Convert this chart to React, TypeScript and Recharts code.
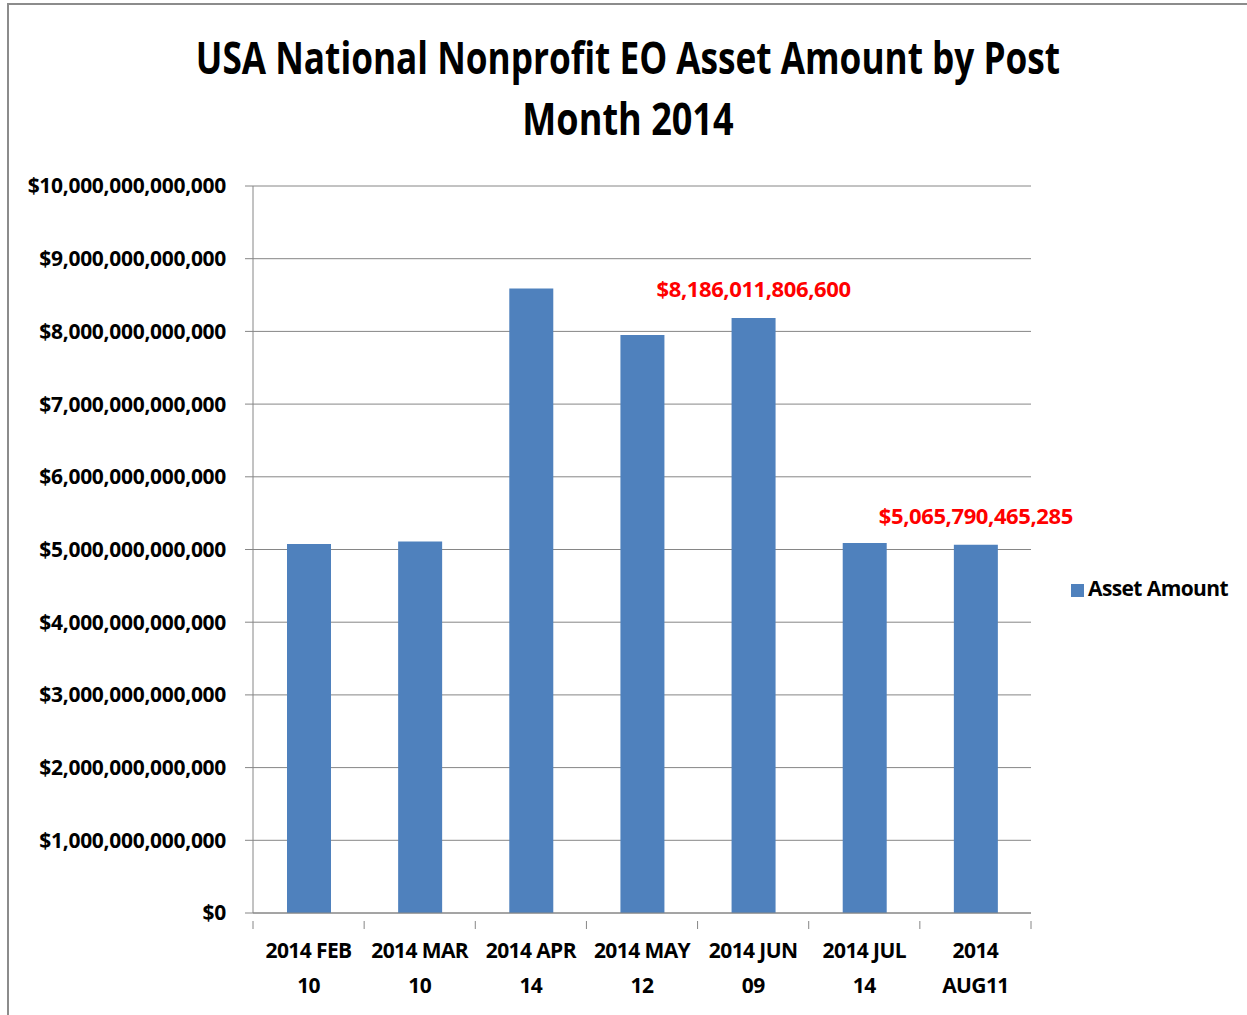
import React from 'react';
import {
	BarChart,
	Bar,
	XAxis,
	YAxis,
	CartesianGrid,
	Legend,
	LabelList,
} from 'recharts';

const months = [
	'2014 FEB 10',
	'2014 MAR 10',
	'2014 APR 14',
	'2014 MAY 12',
	'2014 JUN 09',
	'2014 JUL 14',
	'2014 AUG11',
];
const tickLines = [
	['2014 FEB', '10'],
	['2014 MAR', '10'],
	['2014 APR', '14'],
	['2014 MAY', '12'],
	['2014 JUN', '09'],
	['2014 JUL', '14'],
	['2014', 'AUG11'],
];
const assetAmount = [
	5075000000000, 5110000000000, 8590000000000, 7950000000000, 8186011806600,
	5090000000000, 5065790465285,
];
const labelled = [4, 6];
const yTicks = [0, 1e12, 2e12, 3e12, 4e12, 5e12, 6e12, 7e12, 8e12, 9e12, 1e13];

const data = months.map((name, i) => ({ name, value: assetAmount[i] }));

const FONT = '"Open Sans", sans-serif';
const fmt = (v: number) => '$' + Math.round(v).toLocaleString('en-US');

function XTick(props: any) {
	const { x, y, payload, index } = props;
	const half = 778 / 7 / 2;
	const lines = tickLines[index] || [payload.value];
	return (
		<g>
			<line x1={x - half} y1={y} x2={x - half} y2={y + 8} stroke="#868686" />
			{index === months.length - 1 && (
				<line x1={x + half} y1={y} x2={x + half} y2={y + 8} stroke="#868686" />
			)}
			{lines.map((t: string, i: number) => (
				<text
					key={i}
					x={x}
					y={y + 37 + i * 35}
					textAnchor="middle"
					fontFamily={FONT}
					fontWeight="bold"
					fontSize={21}
					letterSpacing={-0.6}
					fill="#000"
				>
					{t}
				</text>
			))}
		</g>
	);
}

function RedLabel(props: any) {
	const { x, y, width, value, index } = props;
	if (!labelled.includes(index)) return null;
	return (
		<text
			x={x + width / 2}
			y={y - 21}
			textAnchor="middle"
			fontFamily={FONT}
			fontWeight="bold"
			fontSize={22}
			letterSpacing={-0.4}
			fill="#FF0000"
		>
			{fmt(value)}
		</text>
	);
}

export default function App() {
	return (
		<div style={{ position: 'absolute', left: 0, top: 0, width: 1247, height: 1015, background: '#fff', overflow: 'hidden' }}>
			<div
				style={{
					position: 'absolute',
					left: 7,
					top: 3,
					width: 1260,
					height: 1030,
					border: '2px solid #8c8c8c',
				}}
			/>
			<BarChart
				width={1247}
				height={1015}
				data={data}
				margin={{ top: 186, right: 216, bottom: 0, left: 0 }}
				barSize={44}
			>
				<g transform="translate(628,74) scale(0.8,1)">
					<text x={0} y={0} textAnchor="middle" fontFamily={FONT} fontWeight="bold" fontSize={44}>
						USA National Nonprofit EO Asset Amount by Post
					</text>
				</g>
				<g transform="translate(628,135) scale(0.82,1)">
					<text x={0} y={0} textAnchor="middle" fontFamily={FONT} fontWeight="bold" fontSize={44}>
						Month 2014
					</text>
				</g>
				<CartesianGrid vertical={false} stroke="#868686" strokeWidth={1} />
				<XAxis
					dataKey="name"
					interval={0}
					tickLine={false}
					stroke="#868686"
					tick={<XTick />}
					height={102}
				/>
				<YAxis
					width={253}
					domain={[0, 1e13]}
					ticks={yTicks}
					interval={0}
					tickFormatter={fmt}
					stroke="#868686"
					tickSize={8}
					tickMargin={19}
					tick={{ fontFamily: FONT, fontWeight: 'bold', fontSize: 21, fill: '#000', letterSpacing: -0.3 }}
				/>
				<Legend
					verticalAlign="middle"
					align="center"
					layout="horizontal"
					iconType="square"
					iconSize={13}
					wrapperStyle={{
						left: 1062,
						top: 574,
						width: 185,
						whiteSpace: 'nowrap',
						fontFamily: FONT,
						fontWeight: 'bold',
						fontSize: 21,
						letterSpacing: -0.6,
					}}
					formatter={(v: string) => <span style={{ color: '#000' }}>{v}</span>}
				/>
				<Bar dataKey="value" name="Asset Amount" fill="#4F81BD" isAnimationActive={false}>
					<LabelList dataKey="value" content={<RedLabel />} />
				</Bar>
			</BarChart>
		</div>
	);
}
